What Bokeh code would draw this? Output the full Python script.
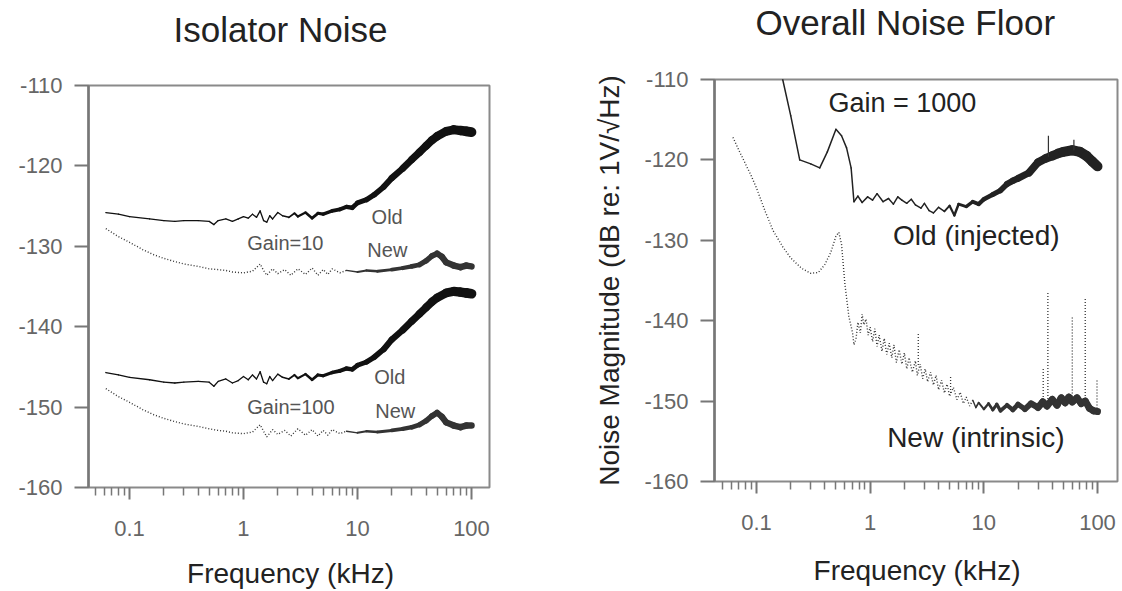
import numpy as np
from bokeh.plotting import figure
from bokeh.layouts import row, column
from bokeh.models import FixedTicker, CustomJSTickFormatter, Range1d, ColumnDataSource
from bokeh.core.properties import value
from bokeh.embed import file_html
from bokeh.resources import INLINE

FONT = "Liberation Sans"

# ---------------- data: left panel "Isolator Noise" ----------------
iso_old10_f = [0.062, 0.08, 0.1, 0.15, 0.2, 0.25, 0.3, 0.4, 0.5, 0.55, 0.6, 0.7, 0.8, 0.9, 1.0,
               1.1, 1.2, 1.3, 1.4, 1.5, 1.6, 1.7, 1.8, 2.0, 2.2, 2.5, 2.8, 3.0, 3.5, 4.0, 4.5,
               5.0, 6.0, 7.0, 8.0, 9.0, 10, 12, 14, 17, 20, 25, 30, 35, 40, 45, 50, 60, 70,
               80, 90, 100]
iso_old10_db = [-125.8, -126.0, -126.3, -126.6, -126.8, -126.9, -126.8, -126.8, -126.9, -127.3,
                -126.8, -126.6, -126.9, -126.6, -126.3, -126.5, -126.0, -126.4, -125.6, -126.8,
                -127.0, -126.2, -126.6, -125.8, -126.2, -126.4, -125.9, -126.3, -125.8, -126.5,
                -125.9, -126.0, -125.6, -125.4, -125.1, -125.2, -124.6, -124.2, -123.6, -122.6,
                -121.5, -120.3, -119.2, -118.3, -117.5, -116.8, -116.3, -115.7, -115.5, -115.6,
                -115.7, -115.8]

iso_new10_f = [0.062, 0.08, 0.1, 0.13, 0.16, 0.2, 0.25, 0.3, 0.4, 0.5, 0.6, 0.7, 0.8, 1.0, 1.2,
               1.4, 1.5, 1.6, 1.8, 2.0, 2.3, 2.6, 3.0, 3.5, 4.0, 4.5, 5.0, 5.5, 6.0, 7.0, 8.0,
               10, 12, 15, 20, 25, 30, 35, 40, 45, 50, 55, 60, 70, 80, 90, 100]
iso_new10_db = [-127.8, -128.8, -129.5, -130.4, -131.0, -131.5, -131.9, -132.2, -132.5, -132.8,
                -132.9, -133.0, -133.2, -133.3, -133.1, -132.2, -133.0, -133.6, -132.8, -133.4,
                -132.9, -133.6, -132.8, -133.5, -132.7, -133.6, -132.9, -133.5, -132.8, -133.3,
                -133.0, -133.2, -133.0, -133.1, -132.9, -132.7, -132.5, -132.3, -131.8, -131.2,
                -130.9, -131.3, -132.0, -132.4, -132.6, -132.4, -132.5]

iso_old100_f = [0.062, 0.08, 0.1, 0.15, 0.2, 0.25, 0.3, 0.4, 0.5, 0.55, 0.6, 0.7, 0.8, 0.9, 1.0,
                1.1, 1.2, 1.3, 1.4, 1.5, 1.6, 1.7, 1.8, 2.0, 2.2, 2.5, 2.8, 3.0, 3.5, 4.0, 4.5,
                5.0, 6.0, 7.0, 8.0, 9.0, 10, 12, 14, 17, 20, 25, 30, 35, 40, 45, 50, 60, 70,
                80, 90, 100]
iso_old100_db = [-145.7, -146.0, -146.3, -146.6, -146.9, -147.0, -146.9, -146.8, -146.9, -147.4,
                 -146.8, -146.5, -147.0, -146.7, -146.2, -146.6, -146.0, -146.5, -145.6, -146.9,
                 -147.1, -146.2, -146.7, -145.9, -146.3, -146.5, -146.0, -146.4, -145.9, -146.6,
                 -146.0, -146.1, -145.7, -145.5, -145.2, -145.3, -144.8, -144.4, -143.8, -142.8,
                 -141.6, -140.4, -139.3, -138.4, -137.6, -136.9, -136.4, -135.8, -135.6, -135.7,
                 -135.8, -135.9]

iso_new100_f = [0.062, 0.08, 0.1, 0.13, 0.16, 0.2, 0.25, 0.3, 0.4, 0.5, 0.6, 0.7, 0.8, 1.0, 1.2,
                1.4, 1.5, 1.6, 1.8, 2.0, 2.3, 2.6, 3.0, 3.5, 4.0, 4.5, 5.0, 5.5, 6.0, 7.0, 8.0,
                10, 12, 15, 20, 25, 30, 35, 40, 45, 50, 55, 60, 70, 80, 90, 100]
iso_new100_db = [-147.7, -148.7, -149.4, -150.3, -150.9, -151.4, -151.8, -152.1, -152.4, -152.7,
                 -152.9, -153.0, -153.2, -153.3, -153.1, -152.2, -153.0, -153.7, -152.8, -153.4,
                 -152.9, -153.6, -152.7, -153.5, -152.8, -153.6, -152.9, -153.5, -152.8, -153.3,
                 -153.0, -153.2, -153.0, -153.1, -152.9, -152.7, -152.5, -152.2, -151.7, -151.1,
                 -150.7, -151.2, -151.9, -152.3, -152.5, -152.3, -152.3]

# ---------------- data: right panel "Overall Noise Floor" ----------------
all_old_f = [0.12, 0.17, 0.2, 0.24, 0.3, 0.36, 0.42, 0.5, 0.56, 0.62, 0.68, 0.72, 0.78, 0.85, 0.95,
             1.05, 1.15, 1.3, 1.45, 1.6, 1.75, 1.9, 2.1, 2.3, 2.5, 2.8, 3.0, 3.3, 3.6, 4.0, 4.5,
             5.0, 5.5, 6.0, 7.0, 8.0, 9.0, 10, 12, 14, 16, 18, 20, 25, 30, 35, 40, 45, 50, 60,
             70, 80, 90, 100]
all_old_db = [-100.0, -110.0, -114.5, -120.0, -120.5, -121.0, -119.0, -116.2, -117.0, -118.5,
              -121.0, -125.2, -124.5, -125.3, -124.6, -125.0, -124.2, -125.2, -124.8, -125.5,
              -124.6, -125.0, -125.4, -124.9, -125.6, -126.0, -125.4, -126.3, -126.6, -125.9,
              -126.4, -125.7, -126.9, -125.5, -125.8, -125.2, -125.5, -124.9, -124.3, -123.8,
              -123.0, -122.6, -122.3, -121.6, -120.3, -119.8, -119.5, -119.2, -119.0, -118.8,
              -119.0, -119.5, -120.2, -120.8]
all_old_spike_f = [37.0, 62.0]
all_old_spike_base = [-119.6, -118.8]
all_old_spike_top = [-117.0, -117.5]

all_new_f = [0.062, 0.07, 0.08, 0.09, 0.1, 0.12, 0.14, 0.17, 0.2, 0.25, 0.3, 0.35, 0.4, 0.45,
             0.5, 0.53, 0.56, 0.6, 0.65, 0.7, 0.72, 0.75, 0.78, 0.82, 0.85, 0.88, 0.92, 0.96,
             1.0, 1.05, 1.1, 1.15, 1.2, 1.27, 1.33, 1.4, 1.47, 1.55, 1.62, 1.7, 1.8, 1.9, 2.0,
             2.1, 2.2, 2.35, 2.5, 2.6, 2.75, 2.9, 3.05, 3.2, 3.4, 3.6, 3.8, 4.0, 4.25, 4.5,
             4.75, 5.0, 5.4, 5.8, 6.2, 6.6, 7.0, 7.5, 8.0, 8.5, 9.0, 10, 11, 12, 13, 14, 16,
             18, 20, 23, 26, 30, 33, 36, 40, 44, 48, 52, 56, 60, 66, 72, 78, 85, 92, 100]
all_new_db = [-117.2, -118.8, -120.5, -122.0, -123.5, -126.5, -128.8, -130.8, -132.2, -133.5,
              -134.1, -134.0, -133.0, -131.5, -129.5, -129.0, -130.5, -135.5, -139.5, -141.5,
              -143.0, -142.3, -140.2, -141.5, -139.2, -140.5, -139.8, -141.8, -140.8, -142.6,
              -141.0, -143.2, -141.8, -143.8, -142.2, -144.2, -142.8, -144.6, -143.0, -145.2,
              -143.6, -145.4, -144.0, -146.0, -144.6, -146.4, -145.0, -146.8, -145.4, -147.2,
              -146.0, -147.6, -146.4, -148.0, -146.8, -148.6, -147.4, -149.0, -147.9, -149.4,
              -148.3, -149.8, -148.9, -150.3, -149.5, -150.6, -149.9, -150.8, -150.2, -151.0,
              -150.3, -151.1, -150.4, -151.2, -150.5, -151.1, -150.4, -151.0, -150.3, -150.8,
              -150.1, -150.6, -149.8, -150.5, -149.6, -150.2, -149.5, -150.1, -149.6, -150.3,
              -150.0, -150.9, -151.2, -151.3]
all_new_spike_f = [2.65, 5.1, 33.3, 36.6, 60.0, 78.0, 99.0]
all_new_spike_base = [-145.5, -149.0, -150.6, -150.1, -149.8, -150.5, -151.3]
all_new_spike_top = [-141.5, -146.8, -146.0, -136.5, -139.4, -137.2, -147.4]

y_ticks = [-160, -150, -140, -130, -120, -110]
x_ticks = [0.1, 1, 10, 100]

W = 561          # width of each panel
H = 591


def text_strip(height, txt, x, y, size, align):
    """A small plot without axes that only carries one text, in pixel coordinates."""
    s = figure(width=W, height=height, x_range=Range1d(0, W), y_range=Range1d(height, 0),
               output_backend="svg", toolbar_location=None, title_location=None,
               x_axis_location=None, y_axis_location=None,
               min_border_left=0, min_border_right=0, min_border_top=0, min_border_bottom=0)
    s.outline_line_color = None
    s.xgrid.visible = False
    s.ygrid.visible = False
    s.background_fill_color = "white"
    s.border_fill_color = "white"
    s.text([x], [y], text=[txt], text_font=value(FONT), text_font_size=size,
           text_color="#222222", text_align=align, text_baseline="middle")
    return s


def make_fig(height, left, right, top, bottom, xlog_lo, xlog_hi):
    p = figure(width=W, height=height, x_axis_type="log",
               x_range=Range1d(10 ** xlog_lo, 10 ** xlog_hi), y_range=Range1d(-160, -110),
               output_backend="svg", toolbar_location=None, title_location=None,
               min_border_left=left, min_border_right=right,
               min_border_top=top, min_border_bottom=bottom)
    p.background_fill_color = "white"
    p.border_fill_color = "white"
    p.outline_line_color = "#8a8a8a"
    p.outline_line_width = 2
    p.xgrid.visible = False
    p.ygrid.visible = False
    minor = [m * 10.0 ** e for e in (-2, -1, 0, 1) for m in range(2, 10)]
    minor = [v for v in minor if 0.049 <= v <= 100]
    xa = p.xaxis[0]
    xa.ticker = FixedTicker(ticks=x_ticks, minor_ticks=minor)
    xa.formatter = CustomJSTickFormatter(code="return tick >= 1 ? tick.toFixed(0) : tick.toFixed(1);")
    xa.bounds = (0.05, 100)
    xa.axis_line_color = None
    xa.major_tick_in = 0
    xa.major_tick_out = 12
    xa.minor_tick_in = 0
    xa.minor_tick_out = 8
    xa.major_tick_line_color = "#777777"
    xa.major_tick_line_width = 2
    xa.minor_tick_line_color = "#777777"
    xa.minor_tick_line_width = 1.5
    xa.major_label_text_font = FONT
    xa.major_label_text_font_size = "22px"
    xa.major_label_text_color = "#666666"
    xa.major_label_standoff = 21
    ya = p.yaxis[0]
    ya.ticker = FixedTicker(ticks=y_ticks, minor_ticks=[])
    ya.formatter = CustomJSTickFormatter(code="return tick.toFixed(0);")
    ya.axis_line_color = "#777777"
    ya.axis_line_width = 2.5
    ya.major_tick_in = 0
    ya.major_tick_out = 14
    ya.minor_tick_out = 0
    ya.minor_tick_in = 0
    ya.major_tick_line_color = "#777777"
    ya.major_tick_line_width = 2
    ya.major_label_text_font = FONT
    ya.major_label_text_font_size = "22px"
    ya.major_label_text_color = "#666666"
    ya.major_label_standoff = 12
    return p


def trace(p, f, db, color, w_thin, w_thick, f0, f1, dotted=False):
    f = np.asarray(f, dtype=float)
    db = np.asarray(db, dtype=float)
    if dotted:
        m = f <= f0 * 1.0001
        p.line(f[m], db[m], line_color=color, line_width=w_thin, line_dash="1 2")
    x0, x1 = f[:-1], f[1:]
    y0, y1 = db[:-1], db[1:]
    t = np.clip((np.log10(x0) - np.log10(f0)) / (np.log10(f1) - np.log10(f0)), 0, 1)
    w = w_thin + (w_thick - w_thin) * t
    keep = np.ones_like(x0, dtype=bool) if not dotted else (x0 >= f0 * 0.9999)
    src = ColumnDataSource(dict(x0=x0[keep], x1=x1[keep], y0=y0[keep], y1=y1[keep], w=w[keep]))
    p.segment("x0", "y0", "x1", "y1", source=src, line_color=color, line_width="w", line_cap="round")


def label(p, x, y, txt, size, color):
    p.text([x], [y], text=[txt], text_font=value(FONT), text_font_size=size, text_color=color,
           text_baseline="middle", text_align="left")


# ---------------- left panel ----------------
T1, B1 = 60, 40
t1 = text_strip(T1, "Isolator Noise", 173, 28.5, "35px", "left")
p1 = make_fig(H - T1 - B1, 88, 72, 85 - T1, (H - B1) - 487, -1.3596, 2.158)
b1 = text_strip(B1, "Frequency (kHz)", 290, 573 - (H - B1), "28px", "center")
trace(p1, iso_old10_f, iso_old10_db, "#111111", 1.3, 10.0, 2.0, 100)
trace(p1, iso_new10_f, iso_new10_db, "#333333", 1.4, 6.5, 8.0, 60, dotted=True)
trace(p1, iso_old100_f, iso_old100_db, "#111111", 1.3, 10.0, 2.0, 100)
trace(p1, iso_new100_f, iso_new100_db, "#333333", 1.4, 6.5, 8.0, 60, dotted=True)
label(p1, 13.3, -126.4, "Old", "20px", "#555555")
label(p1, 1.08, -129.6, "Gain=10", "20px", "#555555")
label(p1, 12.2, -130.4, "New", "20px", "#555555")
label(p1, 14.0, -146.2, "Old", "20px", "#555555")
label(p1, 1.08, -150.0, "Gain=100", "20px", "#555555")
label(p1, 14.3, -150.5, "New", "20px", "#555555")

# ---------------- right panel ----------------
T2, B2 = 55, 40
t2 = text_strip(T2, "Overall Noise Floor", 755 - W, 21.5, "35px", "left")
p2 = make_fig(H - T2 - B2, 153, 5, 79 - T2, (H - B2) - 481, -1.3695, 2.176)
b2 = text_strip(B2, "Frequency (kHz)", 916.5 - W, 570 - (H - B2), "28px", "center")
ya2 = p2.yaxis[0]
ya2.axis_label = "Noise Magnitude (dB re: 1V/\u221aHz)"
ya2.axis_label_text_font = FONT
ya2.axis_label_text_font_size = "28px"
ya2.axis_label_text_font_style = "normal"
ya2.axis_label_text_color = "#222222"
ya2.axis_label_standoff = 16

trace(p2, all_old_f, all_old_db, "#222222", 1.5, 10.0, 4.0, 50)
p2.segment(all_old_spike_f, all_old_spike_base, all_old_spike_f, all_old_spike_top,
           line_color="#333333", line_width=1.2)
trace(p2, all_new_f, all_new_db, "#333333", 1.4, 7.0, 8.0, 30, dotted=True)
p2.segment(all_new_spike_f, all_new_spike_base, all_new_spike_f, all_new_spike_top,
           line_color="#333333", line_width=1.3, line_dash="1 2")
label(p2, 0.43, -112.9, "Gain = 1000", "27px", "#222222")
label(p2, 1.59, -129.4, "Old (injected)", "28px", "#222222")
label(p2, 1.41, -154.5, "New (intrinsic)", "28px", "#222222")

layout = row(column(column(t1), column(p1), column(b1)),
             column(column(t2), column(p2), column(b2)))
open("out.html", "w").write(file_html(layout, INLINE))
